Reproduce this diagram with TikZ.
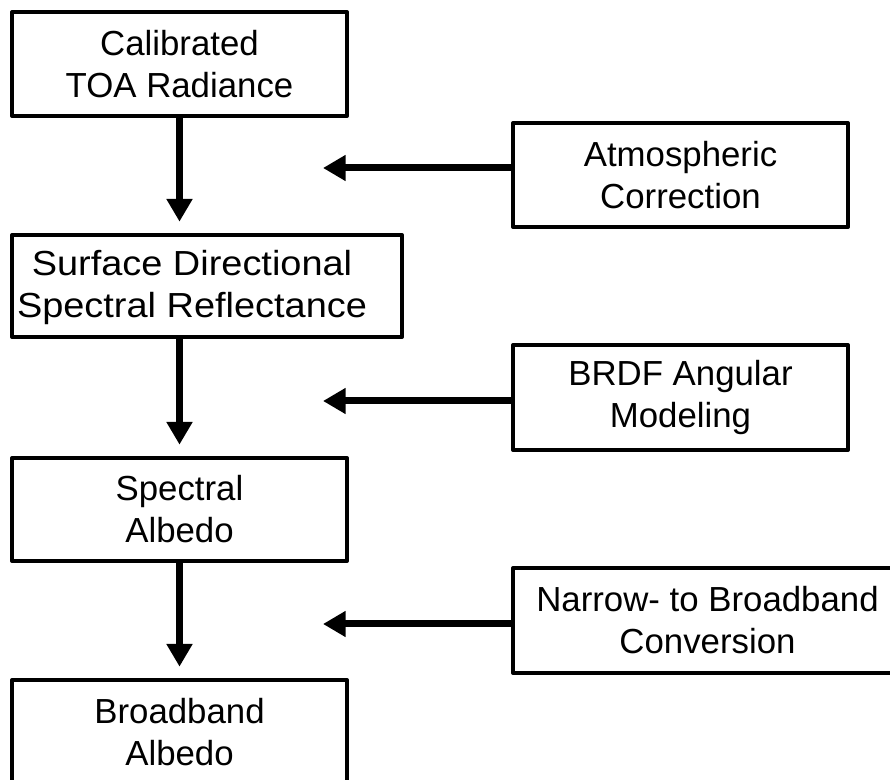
\documentclass[tikz,border=0pt]{standalone}
\usepackage{fontspec}
\setmainfont{Liberation Sans}
\usetikzlibrary{arrows.meta}
\begin{document}
\begin{tikzpicture}[x=0.75pt,y=-0.75pt,
  box/.style={draw=black, line width=3pt, rectangle, inner sep=0pt, align=center,
    font=\fontsize{26.1pt}{31.5pt}\selectfont, line join=round},
  txt/.style={inner sep=0pt, align=center, font=\fontsize{26.1pt}{31.5pt}\selectfont},
  flow/.style={line width=5.25pt, -{Triangle[length=17pt,width=18.5pt]}}]
\useasboundingbox (0,0) rectangle (890,780);
\clip (0,0) rectangle (890,780);
% left column
\node[box, minimum width=251.25pt, minimum height=78pt] (A) at (179.5,64) {Calibrated\\TOA Radiance};
\node[box, minimum width=292.5pt, minimum height=76.5pt] (B) at (207,286) {};
\node[txt] (Bt) at (192,288) {\scalebox{1.09}[1]{\begin{tabular}{@{}c@{}}Surface Directional\\Spectral Reflectance\end{tabular}}};
\node[box, minimum width=251.25pt, minimum height=77.25pt] (C) at (179.5,509.5) {Spectral\\Albedo};
\node[box, minimum width=251.25pt, minimum height=78.75pt] (D) at (179.5,732.5) {Broadband\\Albedo};
% right column
\node[box, minimum width=251.25pt, minimum height=78pt] (AC) at (680.5,175) {Atmospheric\\Correction};
\node[box, minimum width=251.25pt, minimum height=78.75pt] (BR) at (680.5,397.5) {BRDF Angular\\Modeling};
\node[box, minimum width=291.75pt, minimum height=78.75pt] (NB) at (707.5,620.5) {Narrow- to Broadband\\Conversion};
% vertical flow
\draw[flow, shorten >=8.5pt] (A.south) -- (A.south |- B.north);
\draw[flow, shorten >=8.5pt] (B.south -| C.north) -- (C.north);
\draw[flow, shorten >=8.5pt] (C.south) -- (D.north);
% side inputs
\coordinate (t1) at (323,168);
\coordinate (t2) at (323,401);
\coordinate (t3) at (323,624);
\draw[flow] (AC.west |- t1) -- (t1);
\draw[flow] (BR.west |- t2) -- (t2);
\draw[flow] (NB.west |- t3) -- (t3);
\end{tikzpicture}
\end{document}
